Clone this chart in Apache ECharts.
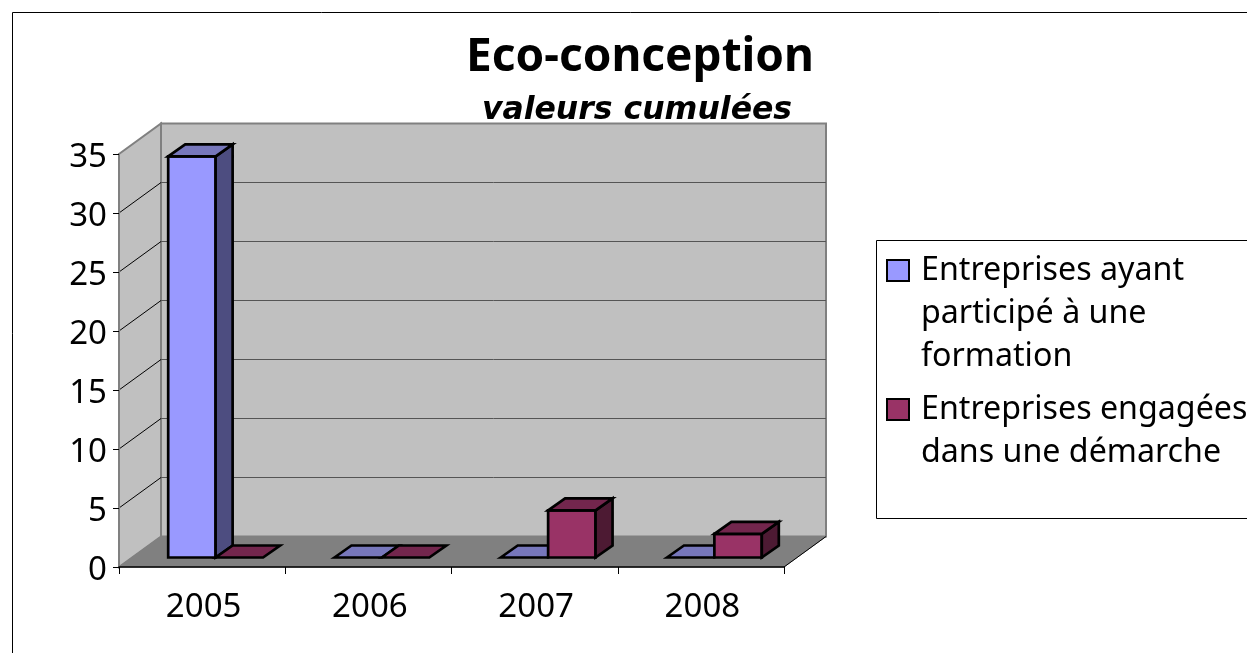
<!DOCTYPE html>
<html>
<head>
<meta charset="utf-8">
<title>Eco-conception</title>
<script src="https://cdn.jsdelivr.net/npm/echarts@6/dist/echarts.min.js"></script>
<style>
  html, body { margin: 0; padding: 0; background: #fff; }
  #view1 { width: 1247px; height: 653px; }
</style>
</head>
<body>
<div id="view1"></div>
<script>
var years = ['2005', '2006', '2007', '2008'];
var formation = [34, 0, 0, 0];
var demarche = [0, 0, 4, 2];
var wallTicks = [5, 10, 15, 20, 25, 30];
var nameFormation = 'Entreprises ayant\nparticipé à une\nformation';
var nameDemarche = 'Entreprises engagées\ndans une démarche';

var font = '"Noto Sans", sans-serif';
// fake 3d: how far the back wall sits from the front plane, in px
var wallDx = 42, wallDy = -30.5;
var barOffDx = 13.5, barOffDy = -9.5;
var barDx = 17, barDy = -12;
var barShare = 47.5 / 166.5;

function poly(points, fill, stroke, width) {
  return {
    type: 'polygon',
    shape: { points: points },
    style: { fill: fill, stroke: stroke, lineWidth: width, lineJoin: 'miter' }
  };
}

function line(x1, y1, x2, y2, color, width) {
  return {
    type: 'line',
    shape: { x1: x1, y1: y1, x2: x2, y2: y2 },
    style: { stroke: color, lineWidth: width }
  };
}

function renderWalls(params, api) {
  var c = params.coordSys;
  var l = c.x, r = c.x + c.width, t = c.y, b = c.y + c.height;
  var kids = [
    poly([[l, t], [l + wallDx, t + wallDy], [l + wallDx, b + wallDy], [l, b]], '#c0c0c0', '#808080', 2),
    poly([[l + wallDx, t + wallDy], [r + wallDx, t + wallDy], [r + wallDx, b + wallDy], [l + wallDx, b + wallDy]], '#c0c0c0', '#808080', 2)
  ];
  wallTicks.forEach(function (v) {
    var y = api.coord([0, v])[1];
    kids.push(line(l, y, l + wallDx, y + wallDy, '#000', 1));
    kids.push(line(l + wallDx, y + wallDy, r + wallDx, y + wallDy, '#555', 1));
  });
  kids.push(poly([[l, b], [r, b], [r + wallDx, b + wallDy], [l + wallDx, b + wallDy]], '#808080', '#808080', 1));
  kids.push(line(r, b, r + wallDx, b + wallDy, '#000', 1));
  return { type: 'group', children: kids };
}

function barRenderer(index, front, top, side) {
  return function (params, api) {
    var p = api.coord([api.value(0), api.value(1)]);
    var base = api.coord([api.value(0), 0]);
    var band = api.size([1, 0])[0];
    var w = band * barShare;
    var x = p[0] - w + index * w + barOffDx;
    var y0 = base[1] + barOffDy, y1 = p[1] + barOffDy;
    var kids = [];
    if (y0 - y1 > 0.5) {
      kids.push(poly([[x, y1], [x + w, y1], [x + w, y0], [x, y0]], front, '#000', 2.7));
      kids.push(poly([[x + w, y1], [x + w + barDx, y1 + barDy], [x + w + barDx, y0 + barDy], [x + w, y0]], side, '#000', 2.7));
    }
    kids.push(poly([[x, y1], [x + barDx, y1 + barDy], [x + w + barDx, y1 + barDy], [x + w, y1]], top, '#000', 2.7));
    return { type: 'group', children: kids };
  };
}

var option = {
  animation: false,
  backgroundColor: '#fff',
  textStyle: { fontFamily: font },
  title: [{
    text: 'Eco-conception',
    left: 635,
    top: 30,
    textAlign: 'center',
    textStyle: { fontFamily: font, fontSize: 46, fontWeight: 'bold', color: '#000' }
  }, {
    text: 'valeurs cumulées',
    left: 632,
    top: 90,
    textAlign: 'center',
    textStyle: { fontFamily: '"DejaVu Sans", sans-serif', fontSize: 31.5, fontWeight: 'bold', fontStyle: 'italic', color: '#000' }
  }],
  grid: { left: 119, top: 154, width: 665, height: 413 },
  xAxis: {
    type: 'category',
    data: years,
    z: 5,
    axisLine: { lineStyle: { color: '#000', width: 1.5 } },
    axisTick: { show: true, length: 7, lineStyle: { color: '#000', width: 1 } },
    axisLabel: { fontFamily: font, fontSize: 33, color: '#000', margin: 24, padding: [0, 0, 0, 3] }
  },
  yAxis: {
    type: 'value',
    min: 0,
    max: 35,
    interval: 5,
    z: 5,
    axisLine: { show: true, lineStyle: { color: '#808080', width: 2 } },
    axisTick: { show: true, length: 6, lineStyle: { color: '#000', width: 1 } },
    // small line height with top align sits the digits a little under the tick
    axisLabel: { fontFamily: font, fontSize: 33, color: '#000', margin: 12, verticalAlign: 'top', lineHeight: 8 },
    splitLine: { show: false }
  },
  legend: {
    orient: 'vertical',
    left: 886,
    top: 163,
    padding: 0,
    icon: 'path://M0 0H22V21H0Z',
    itemWidth: 36,
    itemHeight: 21,
    itemGap: -33,
    itemStyle: { borderColor: '#000', borderWidth: 2 },
    selectedMode: false,
    textStyle: { fontFamily: font, fontSize: 32.2, color: '#000', lineHeight: 43 },
    data: [nameFormation, nameDemarche],
    // blank lines first, so the box sits beside the first line of the wrapped name
    formatter: function (name) {
      return name === nameFormation ? '\n\n' + name : '\n' + name;
    }
  },
  graphic: [
    // frame of the chart area, runs off the page right and bottom
    { type: 'rect', z: -1, shape: { x: 12.5, y: 12.5, width: 1300, height: 700 }, style: { fill: 'none', stroke: '#000', lineWidth: 1 } },
    { type: 'rect', z: -1, shape: { x: 876.5, y: 240.5, width: 420, height: 278 }, style: { fill: '#fff', stroke: '#000', lineWidth: 1 } }
  ],
  series: [{
    type: 'custom',
    silent: true,
    clip: false,
    data: [[0, 0]],
    renderItem: renderWalls
  }, {
    type: 'custom',
    name: nameFormation,
    clip: false,
    itemStyle: { color: '#9999ff' },
    encode: { x: 0, y: 1 },
    data: formation.map(function (v, i) { return [i, v]; }),
    renderItem: barRenderer(0, '#9999ff', '#7777bb', '#4d4d80')
  }, {
    type: 'custom',
    name: nameDemarche,
    clip: false,
    itemStyle: { color: '#993366' },
    encode: { x: 0, y: 1 },
    data: demarche.map(function (v, i) { return [i, v]; }),
    renderItem: barRenderer(1, '#993366', '#73264d', '#4d1a33')
  }]
};

echarts.init(document.getElementById('view1')).setOption(option);
</script>
</body>
</html>
